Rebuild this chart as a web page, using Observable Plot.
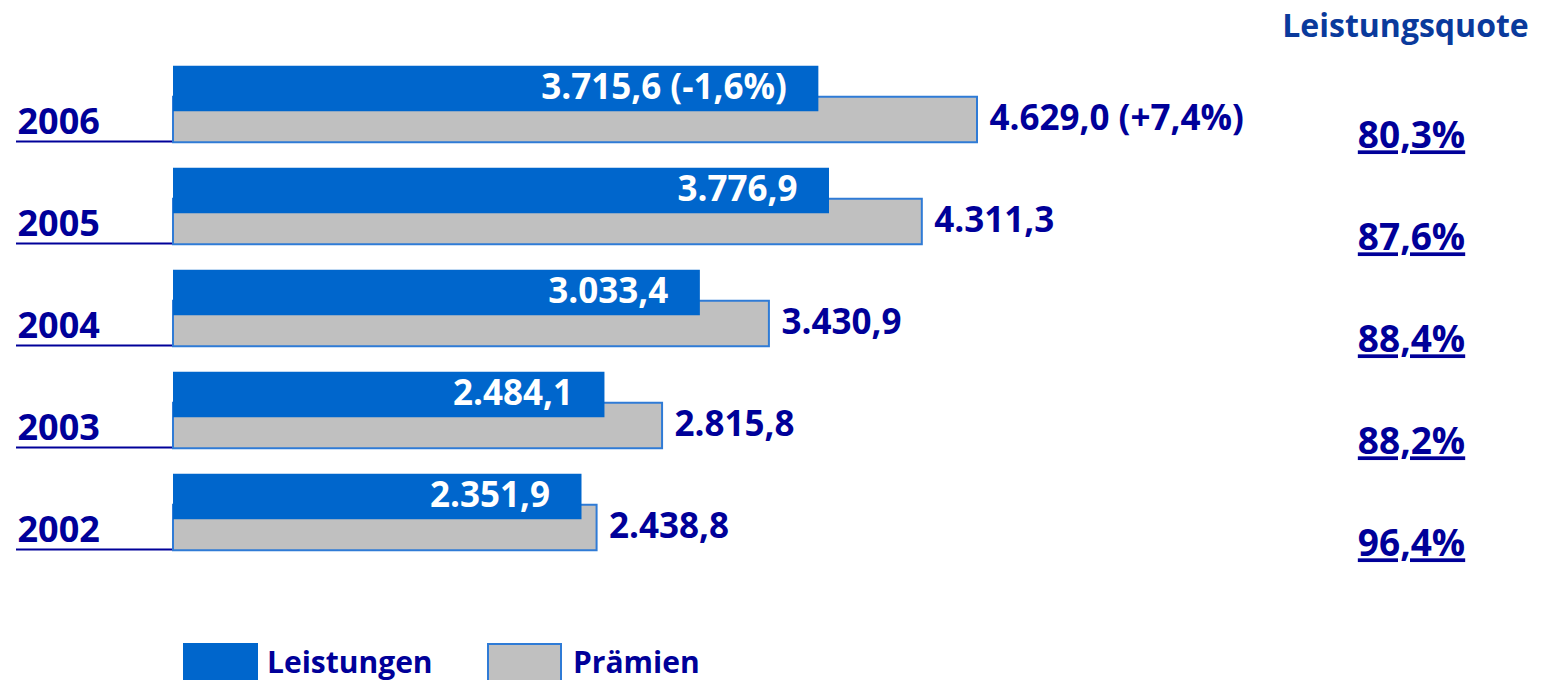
<!DOCTYPE html>
<html>
<head>
<meta charset="utf-8">
<script src="https://cdn.jsdelivr.net/npm/d3@7"></script>
<script src="https://cdn.jsdelivr.net/npm/@observablehq/plot@0.6"></script>
<style>
  html, body { margin: 0; padding: 0; background: #fff; overflow: hidden; }
  #wrap { position: relative; width: 1546px; height: 680px; font-family: "Open Sans", sans-serif; }
  #legend { position: absolute; left: 0; top: 643px; width: 1546px; height: 40px; }
  .sw { position: absolute; top: 0; width: 75px; height: 40px; box-sizing: border-box; }
  .lt { position: absolute; top: -1px; font-size: 30px; font-weight: 700; color: #000099; line-height: 40px; }
</style>
</head>
<body>
<div id="wrap">
  <div id="chart"></div>
  <div id="legend"></div>
</div>
<script>
// ---- data ----
const years = ["2006", "2005", "2004", "2003", "2002"];
const leistungen = [3715.6, 3776.9, 3033.4, 2484.1, 2351.9];
const praemien = [4629.0, 4311.3, 3430.9, 2815.8, 2438.8];
const leistungenChange = ["-1,6%", "", "", "", ""];
const praemienChange = ["+7,4%", "", "", "", ""];
const leistungsquote = ["80,3%", "87,6%", "88,4%", "88,2%", "96,4%"];
const seriesNames = ["Leistungen", "Prämien"];
const quoteTitle = "Leistungsquote";

// ---- build ----
const de = d3.formatLocale({decimal: ",", thousands: ".", grouping: [3], currency: ["", "€"]});
const fmt = de.format(",.1f");
const rows = years.map((y, i) => ({
  year: y,
  leistungen: leistungen[i],
  praemien: praemien[i],
  lLabel: fmt(leistungen[i]) + (leistungenChange[i] ? ` (${leistungenChange[i]})` : ""),
  pLabel: fmt(praemien[i]) + (praemienChange[i] ? ` (${praemienChange[i]})` : ""),
  quote: leistungsquote[i]
}));

const NAVY = "#000099";
const BLUE = "#0066CC";
const GREY = "#C0C0C0";
const BORDER = "#2f7bd6";
const FONT = "Open Sans";

const W = 1546, ML = 16, MR = 135;
const plot = Plot.plot({
  width: W,
  height: 640,
  marginLeft: ML,
  marginRight: MR,
  marginTop: 0,
  marginBottom: 0,
  style: {fontFamily: FONT, background: "white", overflow: "visible"},
  x: {domain: [0, d3.max(praemien)], range: [173, 977], axis: null},
  y: {type: "band", domain: years, range: [51.25, 563.75], padding: 0, axis: null},
  marks: [
    // year underline running to the bars
    Plot.ruleY(rows, {y: "year", dy: 37, stroke: NAVY, strokeWidth: 2, insetRight: (W - MR) - 173}),
    // Prämien bars
    Plot.barX(rows, {x: "praemien", y: "year", fill: GREY, stroke: BORDER, strokeWidth: 2, insetTop: 43.75, insetBottom: 12.75}),
    // Leistungen bars
    Plot.barX(rows, {x: "leistungen", y: "year", fill: BLUE, insetTop: 12.75, insetBottom: 43.75}),
    // labels
    Plot.text(rows, {x: "leistungen", y: "year", text: "lLabel", textAnchor: "end", dx: -32, dy: -17, fill: "white", fontSize: 35, fontWeight: 700}),
    Plot.text(rows, {x: "praemien", y: "year", text: "pLabel", textAnchor: "start", dx: 12, dy: 14, fill: NAVY, fontSize: 35, fontWeight: 700}),
    // year labels
    Plot.text(rows, {y: "year", text: "year", frameAnchor: "left", textAnchor: "start", dx: 1, dy: 18, fill: NAVY, fontSize: 36, fontWeight: 700}),
    // Leistungsquote
    Plot.text(rows, {y: "year", text: "quote", frameAnchor: "right", textAnchor: "middle", dy: 32, fill: NAVY, fontSize: 37, fontWeight: 700}),
    Plot.text([quoteTitle], {frameAnchor: "top-right", textAnchor: "middle", dx: -6, dy: 14, fill: "#0a3a9c", fontSize: 32, fontWeight: 700})
  ]
});
document.getElementById("chart").appendChild(plot);
d3.select(plot).selectAll("text")
  .filter(function() { return leistungsquote.includes(this.textContent); })
  .style("text-decoration", "underline")
  .attr("text-decoration", "underline");

// legend
const legend = d3.select("#legend");
const swatches = [
  {name: seriesNames[0], left: 183, bg: BLUE, border: "none", tx: 267},
  {name: seriesNames[1], left: 487, bg: GREY, border: `2px solid ${BORDER}`, tx: 573}
];
swatches.forEach(s => {
  legend.append("div").attr("class", "sw").style("left", s.left + "px").style("background", s.bg).style("border", s.border);
  legend.append("div").attr("class", "lt").style("left", s.tx + "px").text(s.name);
});
</script>
</body>
</html>
